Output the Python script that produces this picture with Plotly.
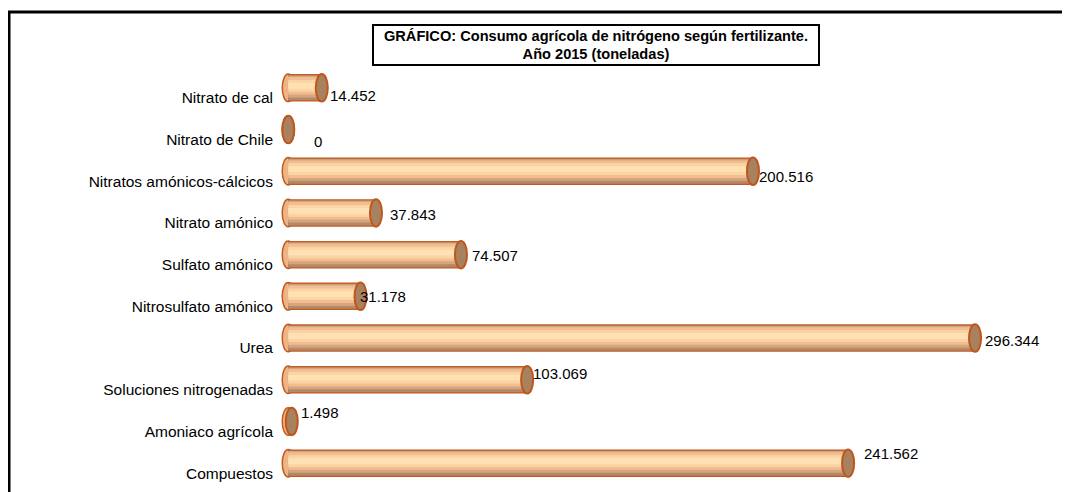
import plotly.graph_objects as go

categorias = ["Nitrato de cal", "Nitrato de Chile", "Nitratos amónicos-cálcicos",
              "Nitrato amónico", "Sulfato amónico", "Nitrosulfato amónico", "Urea",
              "Soluciones nitrogenadas", "Amoniaco agrícola", "Compuestos"]
toneladas = [14452, 0, 200516, 37843, 74507, 31178, 296344, 103069, 1498, 241562]

# label offsets in px (x right, y up), as they sit in the original
lab_dx = [6, 24, 4, 12, 9, -3, 8, 4, 7, 14]
lab_dy = [-8, -12, -5, -2, -1, 0, -2, 6, 9, 10]

idx = list(range(len(categorias)))
fmt = lambda v: f"{v:,}".replace(",", ".")
FONT = "Liberation Sans, Arial"

fig = go.Figure()

# cylinder body built from stacked bars of shrinking thickness
capas = [(0.66, 0.0, "#C25A22"), (0.60, 0.0, "#B08A6A"), (0.52, -0.03, "#D9A47C"),
         (0.42, -0.05, "#F1BE92"), (0.28, -0.05, "#FBD3A4"), (0.14, -0.05, "#FFE1B3")]
for w, dy, col in capas:
    fig.add_trace(go.Bar(
        x=toneladas, y=[i + dy for i in idx], orientation="h", width=w,
        marker=dict(color=col, line=dict(width=0)), hoverinfo="skip", showlegend=False))

rx = 2600
for i, v in zip(idx, toneladas):
    # rounded left end
    fig.add_shape(type="circle", xref="x", yref="y", layer="below",
                  x0=-rx, x1=rx, y0=i - 0.33, y1=i + 0.33,
                  fillcolor="#EDB585", line=dict(color="#C25A22", width=1.5))
    # end cap
    fig.add_shape(type="circle", xref="x", yref="y", layer="above",
                  x0=v - rx, x1=v + rx, y0=i - 0.33, y1=i + 0.33,
                  fillcolor="#A8825F", line=dict(color="#C0561C", width=2))
    fig.add_annotation(x=v, y=i, xref="x", yref="y", text=fmt(v), showarrow=False,
                       xanchor="left", xshift=lab_dx[i], yshift=lab_dy[i],
                       font=dict(family=FONT, size=15, color="#000000"))

# title box
fig.add_annotation(xref="paper", yref="paper", x=0.406, y=1.053,
                   xanchor="center", yanchor="middle",
                   text="<b>GRÁFICO: Consumo agrícola de nitrógeno según fertilizante.<br>Año 2015 (toneladas)</b>",
                   showarrow=False, width=444, height=38, borderpad=0,
                   bordercolor="#000000", borderwidth=2, bgcolor="#FFFFFF",
                   font=dict(family=FONT, size=14.6, color="#000000"))

# outer chart frame
fig.add_shape(type="rect", xref="paper", yref="paper", x0=-0.3457, x1=1.2, y0=-0.2, y1=1.1319,
              line=dict(color="#000000", width=3), fillcolor="rgba(0,0,0,0)", layer="above")

fig.update_layout(
    width=1062, height=484,
    margin=dict(l=271, r=10, t=59, b=8),
    barmode="overlay",
    paper_bgcolor="#FFFFFF", plot_bgcolor="#FFFFFF",
    font=dict(family=FONT, size=15, color="#000000"),
    xaxis=dict(range=[-4000, 333000], visible=False),
    yaxis=dict(range=[9.5, -0.5], tickvals=idx, ticktext=categorias, showgrid=False,
               zeroline=False, showline=False, ticks="", ticklabelstandoff=5,
               ticklabelshift=-10, tickfont=dict(size=15.5)),
)

fig.write_html("out.html")
